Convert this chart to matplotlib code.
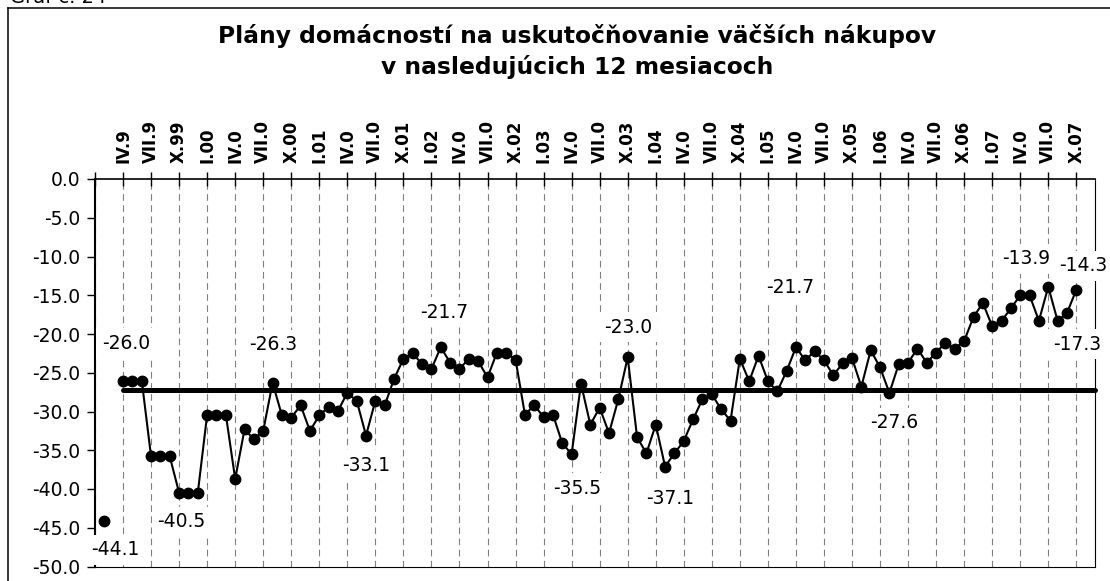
import numpy as np
import matplotlib
matplotlib.use('Agg')
from matplotlib import pyplot as plt
from matplotlib.lines import Line2D

# monthly survey balance, Jan 1999 .. Oct 2007 (nan = no survey)
values = [
    np.nan, -44.1, np.nan, -26.0, -26.0, -26.0, -35.8, -35.8, -35.8, -40.5,
    -40.5, -40.5, -30.4, -30.4, -30.4, -38.7, -32.3, -33.6, -32.5, -26.3,
    -30.5, -30.8, -29.2, -32.5, -30.5, -29.4, -29.9, -27.6, -28.6, -33.1,
    -28.6, -29.2, -25.8, -23.2, -22.5, -23.9, -24.5, -21.7, -23.7, -24.5,
    -23.2, -23.5, -25.6, -22.4, -22.4, -23.3, -30.4, -29.2, -30.7, -30.4,
    -34.1, -35.5, -26.4, -31.7, -29.5, -32.8, -28.4, -23.0, -33.3, -35.4,
    -31.7, -37.1, -35.4, -33.8, -31.0, -28.4, -27.8, -29.7, -31.2, -23.2,
    -26.1, -22.8, -26.1, -27.4, -24.8, -21.7, -23.4, -22.2, -23.4, -25.3,
    -23.8, -23.1, -26.8, -22.1, -24.3, -27.6, -23.9, -23.7, -21.9, -23.7,
    -22.4, -21.1, -21.9, -20.9, -17.8, -16.0, -19.0, -18.3, -16.7, -15.0,
    -15.0, -18.3, -13.9, -18.3, -17.3, -14.3,
]
average = -27.2
avg_from = 3          # average drawn from Apr 1999 to the end of the axis
n_slots = 108         # Jan 1999 .. Dec 2007

tick_labels = ['IV.9', 'VII.9', 'X.99', 'I.00', 'IV.0', 'VII.0', 'X.00', 'I.01',
               'IV.0', 'VII.0', 'X.01', 'I.02', 'IV.0', 'VII.0', 'X.02', 'I.03',
               'IV.0', 'VII.0', 'X.03', 'I.04', 'IV.0', 'VII.0', 'X.04', 'I.05',
               'IV.0', 'VII.0', 'X.05', 'I.06', 'IV.0', 'VII.0', 'X.06', 'I.07',
               'IV.0', 'VII.0', 'X.07']

labelled = [1, 3, 10, 19, 29, 37, 51, 57, 61, 75, 85, 102, 104, 105]
# label offsets in pixels from the point
label_offsets = [(11, -29), (3, 37), (-7, -29), (1, 38), (0, -30), (3, 35), (6, -34),
                 (0, 30), (5, -32), (-6, 60), (5, -30), (-22, 28), (10, -31), (7, 24)]

W, H = 1110, 581
fig = plt.figure(figsize=(W / 100, H / 100), dpi=100)
fig.patch.set_facecolor('white')

ax = fig.add_axes([95 / W, (H - 566.5) / H, 1000 / W, 387.5 / H])
ax.set_xlim(0, n_slots - 1)
ax.set_ylim(-50, 0)

x = np.arange(len(values))
ax.plot([avg_from, n_slots - 1], [average, average], color='black', lw=3.6,
        solid_capstyle='round', clip_on=False, zorder=3)
ax.plot(x, values, color='black', lw=1.5, marker='o', markersize=7.5, zorder=4)

for i, (dx, dy) in zip(labelled, label_offsets):
    ax.annotate(f'{values[i]:.1f}', (i, values[i]), xytext=(dx, dy), textcoords='offset pixels',
                ha='center', va='center', fontsize=13.5, family='DejaVu Sans',
                bbox=dict(boxstyle='square,pad=0.3', fc='white', ec='none'),
                zorder=6, annotation_clip=False)

# x axis sits at the top (value 0)
ax.xaxis.tick_top()
ax.set_xticks(np.arange(0, len(values), 3))
ax.set_xticklabels([''] + tick_labels, rotation=90, fontsize=12, fontweight='bold',
                   family='DejaVu Sans')
ax.tick_params(axis='x', direction='inout', length=10, width=1, pad=6.5)
ax.grid(axis='x', color='#808080', linestyle=(0, (6, 4)), lw=0.8)
ax.set_axisbelow(True)

yt = np.arange(-50, 1, 5)
ax.set_yticks(yt)
ax.set_yticklabels([f'{v:.1f}' for v in yt], fontsize=13.5, family='DejaVu Sans')
ax.tick_params(axis='y', direction='out', length=5.8, width=1, pad=5)

ax.spines['left'].set_linewidth(1.5)
ax.spines['top'].set_linewidth(1.2)
ax.spines['right'].set_linewidth(0.8)
ax.spines['bottom'].set_linewidth(0.8)

# chart frame (only top and left edges are inside the picture)
fig.add_artist(Line2D([8 / W, 1], [1 - 8 / H, 1 - 8 / H], color='black', lw=1.1))
fig.add_artist(Line2D([8 / W, 8 / W], [0, 1 - 8 / H], color='black', lw=1.1))

fig.text(10 / W, 1 - 3 / H, 'Graf č. 24', ha='left', va='baseline', fontsize=14,
         family='DejaVu Sans')
fig.text(577 / W, 1 - 36 / H, 'Plány domácností na uskutočňovanie väčších nákupov',
         ha='center', va='center', fontsize=16.8, fontweight='bold', family='DejaVu Sans')
fig.text(577 / W, 1 - 67 / H, 'v nasledujúcich 12 mesiacoch',
         ha='center', va='center', fontsize=16.8, fontweight='bold', family='DejaVu Sans')

fig.savefig('out.png', dpi=100)
